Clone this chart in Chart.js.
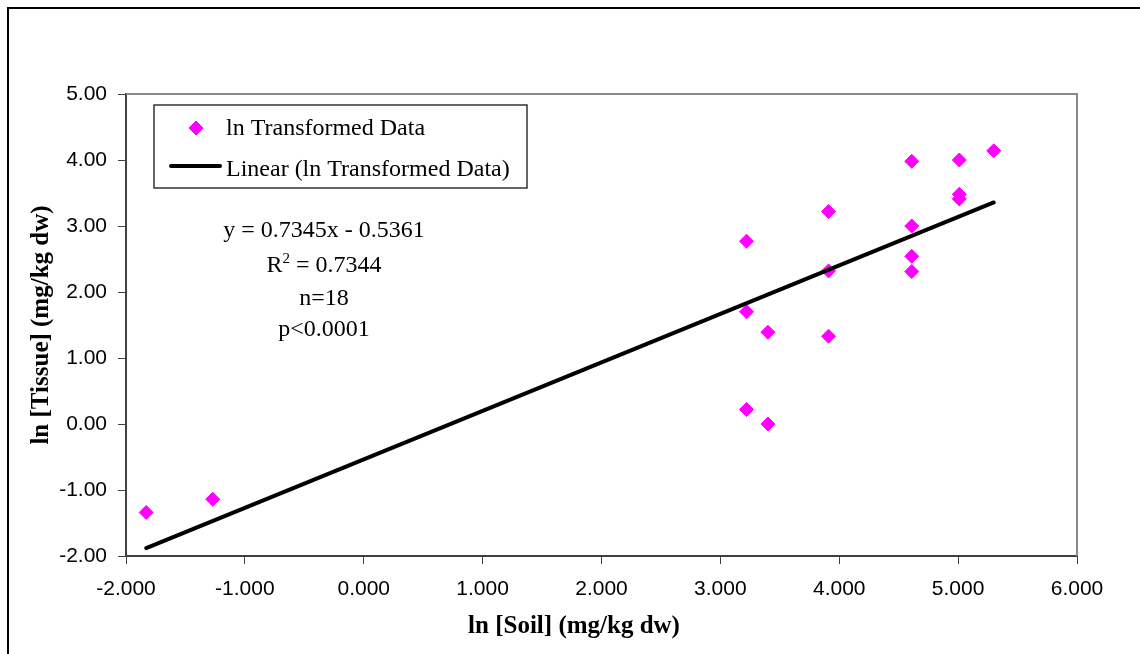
<!DOCTYPE html>
<html>
<head>
<meta charset="utf-8">
<script src="https://cdn.jsdelivr.net/npm/chart.js@4.4.0/dist/chart.umd.min.js"></script>
<style>
    html, body { margin: 0; padding: 0; background: #fff; }
    #wrap { width: 1140px; height: 654px; }
</style>
</head>
<body>
<div id="wrap"><canvas id="chart" width="1140" height="654"></canvas></div>
<script>
// Values
const soilLn = [-1.83, -1.27, 3.22, 3.22, 3.22, 3.40, 3.40, 3.91, 3.91, 3.91, 4.61, 4.61, 4.61, 4.61, 5.01, 5.01, 5.01, 5.30];
const tissueLn = [-1.34, -1.14, 2.77, 1.70, 0.22, 1.39, 0.00, 3.22, 2.32, 1.33, 3.98, 3.00, 2.54, 2.31, 4.00, 3.48, 3.41, 4.14];
const trendSlope = 0.7345;
const trendIntercept = -0.5361;
const xTicks = [-2, -1, 0, 1, 2, 3, 4, 5, 6];
const yTicks = [-2, -1, 0, 1, 2, 3, 4, 5];
const seriesName = 'ln Transformed Data';
const trendName = 'Linear (ln Transformed Data)';
const xTitle = 'ln [Soil] (mg/kg dw)';
const yTitle = 'ln [Tissue] (mg/kg dw)';
const statEquation = 'y = 0.7345x - 0.5361';
const statR2 = '0.7344';
const statN = 'n=18';
const statP = 'p<0.0001';

const MAGENTA = '#ff00ff';
const SERIF = '"Liberation Serif", "Times New Roman", serif';
const SANS = '"Liberation Sans", Arial, sans-serif';

const points = soilLn.map((x, i) => ({ x: x, y: tissueLn[i] }));
const xMin = Math.min(...soilLn);
const xMax = Math.max(...soilLn);
const trend = [xMin, xMax].map(x => ({ x: x, y: trendSlope * x + trendIntercept }));

// Frame, legend box, stats text and x title
const panelPlugin = {
    id: 'panel',
    beforeDraw(chart) {
        const ctx = chart.ctx;
        ctx.save();
        ctx.fillStyle = '#fff';
        ctx.fillRect(0, 0, chart.width, chart.height);
        ctx.strokeStyle = '#000';
        ctx.lineWidth = 2;
        ctx.strokeRect(8, 8, chart.width + 40, chart.height + 40);
        ctx.restore();
    },
    afterDraw(chart) {
        const ctx = chart.ctx;
        const a = chart.chartArea;
        ctx.save();

        // grey top/right edge of the plot area
        ctx.strokeStyle = '#888';
        ctx.lineWidth = 2;
        ctx.beginPath();
        ctx.moveTo(a.left, a.top);
        ctx.lineTo(a.right, a.top);
        ctx.lineTo(a.right, a.bottom);
        ctx.stroke();

        // legend
        const lx = a.left + 28, ly = a.top + 11;
        ctx.fillStyle = '#fff';
        ctx.fillRect(lx, ly, 373, 83);
        ctx.strokeStyle = '#333';
        ctx.lineWidth = 1.5;
        ctx.strokeRect(lx, ly, 373, 83);

        ctx.fillStyle = MAGENTA;
        ctx.strokeStyle = MAGENTA;
        ctx.lineWidth = 1;
        Chart.helpers.drawPoint(ctx, { pointStyle: 'rectRot', radius: 7, rotation: 0, borderWidth: 1 }, lx + 42, ly + 23);

        ctx.strokeStyle = '#000';
        ctx.lineWidth = 4;
        ctx.lineCap = 'round';
        ctx.beginPath();
        ctx.moveTo(lx + 17, ly + 61);
        ctx.lineTo(lx + 66, ly + 61);
        ctx.stroke();

        ctx.fillStyle = '#000';
        ctx.font = '24px ' + SERIF;
        ctx.textAlign = 'left';
        ctx.textBaseline = 'alphabetic';
        ctx.fillText(seriesName, lx + 72, ly + 30);
        ctx.fillText(trendName, lx + 72, ly + 71);

        // regression stats
        const cx = a.left + 198;
        ctx.textAlign = 'center';
        ctx.fillText(statEquation, cx, a.top + 143);
        ctx.fillText(statN, cx, a.top + 211);
        ctx.fillText(statP, cx, a.top + 242);

        const rest = ' = ' + statR2;
        ctx.textAlign = 'left';
        const wR = ctx.measureText('R').width;
        const wRest = ctx.measureText(rest).width;
        ctx.font = '15px ' + SERIF;
        const w2 = ctx.measureText('2').width;
        const start = cx - (wR + w2 + wRest) / 2;
        const base = a.top + 178;
        ctx.font = '24px ' + SERIF;
        ctx.fillText('R', start, base);
        ctx.fillText(rest, start + wR + w2, base);
        ctx.font = '15px ' + SERIF;
        ctx.fillText('2', start + wR, base - 9);

        // x axis title, centred on the whole picture as in the original
        ctx.font = 'bold 25px ' + SERIF;
        ctx.textAlign = 'center';
        ctx.textBaseline = 'middle';
        ctx.fillText(xTitle, 574, 627);

        ctx.restore();
    }
};

const ctx = document.getElementById('chart').getContext('2d');
const chart = new Chart(ctx, {
    type: 'scatter',
    data: {
        datasets: [
            {
                label: trendName,
                data: trend,
                showLine: true,
                borderColor: '#000',
                borderWidth: 4,
                borderCapStyle: 'round',
                pointRadius: 0,
                fill: false,
                order: 0
            },
            {
                label: seriesName,
                data: points,
                pointStyle: 'rectRot',
                pointRadius: 7,
                pointHoverRadius: 7,
                backgroundColor: MAGENTA,
                borderColor: MAGENTA,
                borderWidth: 1,
                order: 1
            }
        ]
    },
    options: {
        responsive: false,
        animation: false,
        layout: { padding: { top: 94, right: 63, left: 0, bottom: 0 } },
        plugins: {
            legend: { display: false },
            tooltip: { enabled: false }
        },
        scales: {
            x: {
                type: 'linear',
                position: 'bottom',
                min: -2,
                max: 6,
                afterBuildTicks: s => { s.ticks = xTicks.map(v => ({ value: v })); },
                afterFit: s => { s.height = 98; },
                grid: {
                    drawOnChartArea: false,
                    drawTicks: true,
                    tickLength: 8,
                    color: '#404040',
                    lineWidth: 1
                },
                border: { display: true, color: '#404040', width: 2 },
                ticks: {
                    color: '#000',
                    font: { family: SANS, size: 21 },
                    padding: 13,
                    maxRotation: 0,
                    autoSkip: false,
                    callback: v => Number(v).toFixed(3)
                }
            },
            y: {
                type: 'linear',
                position: 'left',
                min: -2,
                max: 5,
                afterBuildTicks: s => { s.ticks = yTicks.map(v => ({ value: v })); },
                afterFit: s => { s.width = 126; },
                grid: {
                    drawOnChartArea: false,
                    drawTicks: true,
                    tickLength: 8,
                    color: '#404040',
                    lineWidth: 1
                },
                border: { display: true, color: '#404040', width: 2 },
                ticks: {
                    color: '#000',
                    font: { family: SANS, size: 21 },
                    padding: 11,
                    autoSkip: false,
                    callback: v => Number(v).toFixed(2)
                },
                title: {
                    display: true,
                    text: yTitle,
                    color: '#000',
                    font: { family: SERIF, size: 25, weight: 'bold' },
                    padding: { top: 27, bottom: 0 }
                }
            }
        }
    },
    plugins: [panelPlugin]
});
</script>
</body>
</html>
